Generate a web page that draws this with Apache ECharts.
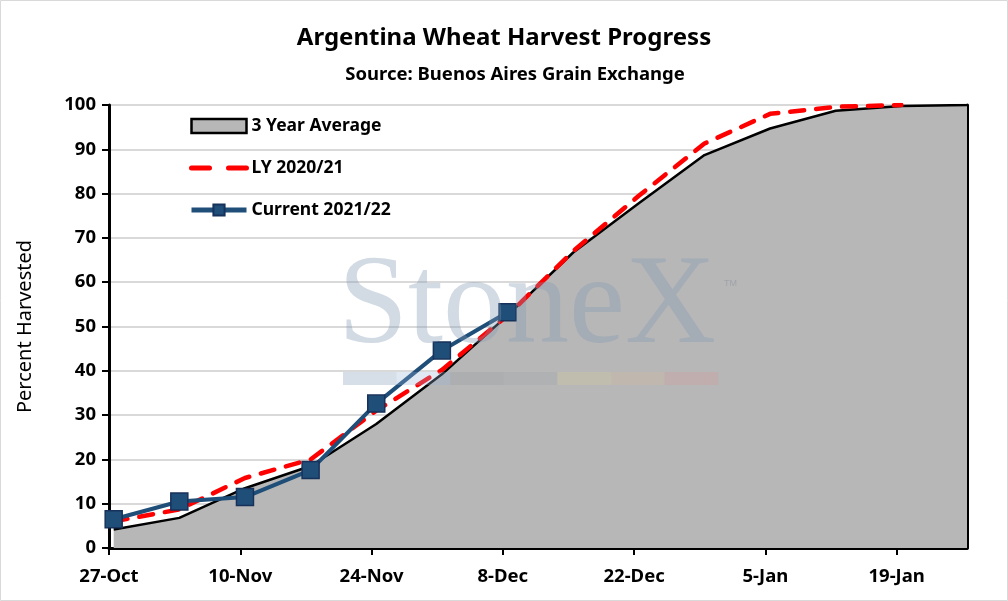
<!DOCTYPE html>
<html>
<head>
<meta charset="utf-8">
<script src="https://cdn.jsdelivr.net/npm/echarts@6/dist/echarts.min.js"></script>
<style>
  html, body { margin: 0; padding: 0; background: #fff; }
  #myChart { width: 1008px; height: 601px; }
</style>
</head>
<body>
<div id="myChart"></div>
<script>
// weekly report dates (first one is 27-Oct)
var weekLabels = ["27-Oct", "3-Nov", "10-Nov", "17-Nov", "24-Nov", "1-Dec", "8-Dec",
  "15-Dec", "22-Dec", "29-Dec", "5-Jan", "12-Jan", "19-Jan", "26-Jan"];
var tickLabels = ["27-Oct", "10-Nov", "24-Nov", "8-Dec", "22-Dec", "5-Jan", "19-Jan"];

var avg3yr = [4.2, 6.8, 13.5, 18.5, 28, 39.2, 52.5, 66.7, 77.8, 88.7, 94.7, 98.7, 99.8, 100];
var ly2021 = [6, 8.7, 15.8, 20, 31, 40.2, 52.5, 67, 79.5, 91.3, 98, 99.6, 100];
var current = [6.5, 10.5, 11.5, 17.6, 32.6, 44.6, 53.2];

document.addEventListener("DOMContentLoaded", function () {
  var myChart = echarts.init(document.getElementById("myChart"));

  // excel date axis: points sit in the middle of their day
  function toXY(values) {
    return values.map(function (v, i) {
      return [0.5 + 7 * i, v];
    });
  }
  var tickDays = tickLabels.map(function (d, i) { return i * 14; });
  var font = "Noto Sans";

  // watermark pieces, drawn over the plot
  var barColors = ["rgba(120,145,175,0.3)", "rgba(150,180,215,0.3)", "rgba(140,145,155,0.22)",
    "rgba(150,160,165,0.22)", "rgba(215,200,150,0.28)", "rgba(215,185,150,0.28)", "rgba(215,150,150,0.28)"];
  var mark = [
    {
      type: "text",
      left: 338,
      top: 246,
      z: 100,
      silent: true,
      style: {
        text: "StoneX",
        fontFamily: "Liberation Serif",
        fontSize: 126,
        fill: "rgba(130,152,180,0.36)",
      },
    },
    {
      type: "text",
      left: 724,
      top: 279,
      z: 100,
      silent: true,
      style: { text: "TM", fontFamily: "Liberation Sans", fontSize: 9, fill: "rgba(130,140,150,0.45)" },
    },
  ];
  barColors.forEach(function (c, i) {
    mark.push({
      type: "rect",
      z: 100,
      silent: true,
      shape: { x: 343 + i * 53.6, y: 372, width: 53.6, height: 13 },
      style: { fill: c },
    });
  });
  mark.push({
    type: "rect",
    silent: true,
    z: 100,
    shape: { x: 0.5, y: 0.5, width: 1007, height: 600 },
    style: { fill: "none", stroke: "#d9d9d9", lineWidth: 1 },
  });

  var option = {
    backgroundColor: "#fff",
    animation: false,
    title: [
      {
        text: "Argentina Wheat Harvest Progress",
        left: "center",
        top: 21,
        textStyle: { fontFamily: font, fontSize: 24, fontWeight: "bold", color: "#000" },
      },
      {
        text: "Source: Buenos Aires Grain Exchange",
        left: 510,
        top: 60,
        textAlign: "center",
        textStyle: { fontFamily: font, fontSize: 18.5, fontWeight: "bold", color: "#000" },
      },
    ],
    legend: {
      orient: "vertical",
      left: 184,
      top: 112,
      itemWidth: 55,
      itemHeight: 14,
      itemGap: 24,
      textStyle: { fontFamily: font, fontSize: 17.5, fontWeight: "bold", color: "#000" },
      data: [
        {
          name: "3 Year Average",
          icon: "rect",
          itemStyle: { color: "#b7b7b7", borderColor: "#000", borderWidth: 2.5 },
        },
        {
          name: "LY 2020/21",
          itemStyle: { opacity: 0 },
          lineStyle: { width: 5, type: [18, 19], cap: "round" },
        },
        {
          name: "Current 2021/22",
          lineStyle: { width: 5 },
        },
      ],
    },
    grid: { left: 109, right: 41, top: 105, bottom: 53 },
    xAxis: {
      type: "value",
      min: 0,
      max: 91.5,
      splitLine: { show: false },
      axisLine: { lineStyle: { color: "#000", width: 3 } },
      axisTick: { customValues: tickDays, length: 7, lineStyle: { color: "#000", width: 2 } },
      axisLabel: {
        customValues: tickDays,
        margin: 19,
        fontFamily: font,
        fontSize: 18.5,
        fontWeight: "bold",
        color: "#000",
        formatter: function (v) { return tickLabels[Math.round(v / 14)]; },
      },
    },
    yAxis: [
      {
        type: "value",
        min: 0,
        max: 100,
        interval: 10,
        name: "Percent Harvested",
        nameLocation: "middle",
        nameGap: 74,
        nameTextStyle: { fontFamily: font, fontSize: 20, color: "#000" },
        axisLine: { show: true, lineStyle: { color: "#000", width: 3 } },
        axisTick: { show: true, length: 7, lineStyle: { color: "#000", width: 2 } },
        axisLabel: { margin: 13, fontFamily: font, fontSize: 18.5, fontWeight: "bold", color: "#000" },
        splitLine: { lineStyle: { color: "#d9d9d9", width: 2 } },
      },
      {
        type: "value",
        min: 0,
        max: 100,
        position: "right",
        axisLine: { show: true, lineStyle: { color: "#000", width: 3 } },
        axisTick: { show: false },
        axisLabel: { show: false },
        splitLine: { show: false },
      },
    ],
    series: [
      {
        name: "3 Year Average",
        type: "line",
        data: toXY(avg3yr),
        symbol: "none",
        lineStyle: { color: "#000", width: 2.5 },
        areaStyle: { color: "#b7b7b7", opacity: 1 },
        itemStyle: { color: "#b7b7b7" },
        z: 1,
      },
      {
        name: "LY 2020/21",
        type: "line",
        data: toXY(ly2021),
        symbol: "none",
        lineStyle: { color: "#ff0000", width: 4.5, type: [14, 12], cap: "round" },
        itemStyle: { color: "#ff0000" },
        z: 3,
      },
      {
        name: "Current 2021/22",
        type: "line",
        data: toXY(current),
        symbol: "rect",
        symbolSize: 17,
        lineStyle: { color: "#1f4e79", width: 4 },
        itemStyle: { color: "#1f4e79", borderColor: "#17325a", borderWidth: 1.5 },
        z: 4,
      },
    ],
    graphic: mark,
  };

  myChart.setOption(option);
});
</script>
</body>
</html>
